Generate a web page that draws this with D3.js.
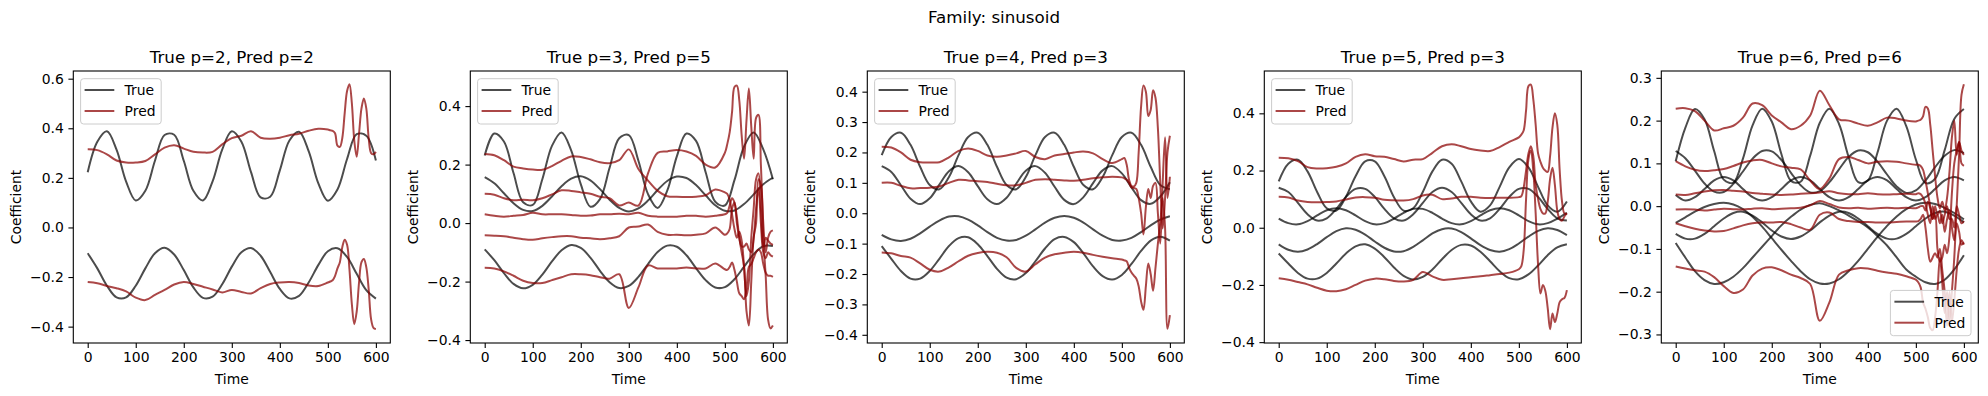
<!DOCTYPE html>
<html>
<head>
<meta charset="utf-8">
<script src="https://cdn.jsdelivr.net/npm/d3@7"></script>
<style>
  body { margin: 0; background: #fff; }
  text { font-family: "DejaVu Sans", sans-serif; fill: #000; }
</style>
</head>
<body>
<script>
// ---- data ----
let suptitle = "Family: sinusoid";
let titles = ["True p=2, Pred p=2", "True p=3, Pred p=5", "True p=4, Pred p=3", "True p=5, Pred p=3", "True p=6, Pred p=6"];

let trueTime = [0,20,40,60,80,100,120,140,160,180,200,220,240,260,280,300,320,340,360,380,400,420,440,460,480,500,520,540,560,580,600];
let predTime = [0,20,40,60,80,100,120,140,160,180,200,220,240,260,280,300,320,340,360,380,400,420,440,460,480,500,
                505,510,515,520,525,530,535,540,545,550,555,560,565,570,575,580,585,590,595,600];

let xTicks = [0, 100, 200, 300, 400, 500, 600];
let yTicks = [
  [-0.4, -0.2, 0.0, 0.2, 0.4, 0.6],
  [-0.4, -0.2, 0.0, 0.2, 0.4],
  [-0.4, -0.3, -0.2, -0.1, 0.0, 0.1, 0.2, 0.3, 0.4],
  [-0.4, -0.2, 0.0, 0.2, 0.4],
  [-0.3, -0.2, -0.1, 0.0, 0.1, 0.2, 0.3]
];
let yDomains = [[-0.466, 0.631], [-0.41, 0.52], [-0.427, 0.468], [-0.403, 0.548], [-0.320, 0.316]];

// panel 1
let p1True = [
  [0.223,0.346,0.388,0.314,0.185,0.109,0.148,0.269,0.373,0.374,0.269,0.148,0.109,0.186,0.314,0.388,0.346,0.223,0.121,0.124,0.230,0.351,0.386,0.308,0.179,0.108,0.153,0.276,0.376,0.370,0.270],
  [-0.104,-0.165,-0.235,-0.282,-0.282,-0.235,-0.165,-0.104,-0.082,-0.109,-0.172,-0.242,-0.284,-0.279,-0.229,-0.158,-0.100,-0.083,-0.114,-0.180,-0.248,-0.286,-0.276,-0.222,-0.152,-0.096,-0.084,-0.119,-0.187,-0.253,-0.287]
];
let p1Pred = [
  [0.315,0.312,0.295,0.270,0.262,0.262,0.268,0.295,0.322,0.332,0.318,0.305,0.302,0.305,0.335,0.360,0.370,0.388,0.362,0.358,0.362,0.372,0.378,0.390,0.398,0.395,
   0.392,0.390,0.380,0.330,0.325,0.360,0.460,0.550,0.578,0.500,0.350,0.285,0.380,0.480,0.520,0.480,0.360,0.300,0.295,0.305],
  [-0.220,-0.225,-0.236,-0.245,-0.258,-0.283,-0.293,-0.272,-0.252,-0.230,-0.220,-0.228,-0.239,-0.250,-0.262,-0.252,-0.260,-0.266,-0.245,-0.228,-0.222,-0.220,-0.224,-0.234,-0.236,-0.222,
   -0.218,-0.213,-0.195,-0.165,-0.140,-0.080,-0.050,-0.070,-0.170,-0.310,-0.390,-0.340,-0.220,-0.140,-0.127,-0.160,-0.250,-0.370,-0.405,-0.410]
];

// panel 2
let p2True = [
  [0.231,0.306,0.279,0.171,0.071,0.062,0.150,0.264,0.310,0.249,0.133,0.056,0.082,0.189,0.290,0.301,0.213,0.099,0.052,0.111,0.228,0.306,0.281,0.174,0.073,0.060,0.147,0.262,0.310,0.252,0.150],
  [0.157,0.136,0.102,0.068,0.045,0.041,0.059,0.091,0.126,0.152,0.160,0.146,0.116,0.080,0.052,0.040,0.050,0.077,0.113,0.144,0.159,0.154,0.130,0.095,0.061,0.042,0.043,0.065,0.098,0.133,0.155],
  [-0.090,-0.127,-0.171,-0.208,-0.223,-0.211,-0.176,-0.131,-0.093,-0.075,-0.085,-0.118,-0.163,-0.202,-0.222,-0.215,-0.184,-0.140,-0.099,-0.077,-0.081,-0.110,-0.154,-0.195,-0.220,-0.219,-0.192,-0.149,-0.106,-0.079,-0.078]
];
let p2Pred = [
  [0.236,0.232,0.215,0.193,0.187,0.183,0.182,0.195,0.213,0.228,0.226,0.218,0.208,0.205,0.215,0.252,0.185,0.145,0.110,0.092,0.090,0.089,0.090,0.095,0.115,0.105,
   0.100,0.080,0.030,-0.020,-0.050,-0.030,-0.060,-0.150,-0.250,-0.200,-0.050,0.050,0.150,0.170,0.050,-0.080,-0.050,-0.060,-0.070,-0.075],
  [0.100,0.097,0.085,0.078,0.080,0.078,0.085,0.098,0.112,0.110,0.105,0.100,0.090,0.085,0.060,0.070,0.060,0.170,0.240,0.245,0.250,0.245,0.230,0.200,0.190,0.240,
   0.270,0.310,0.380,0.465,0.470,0.420,0.300,0.220,0.350,0.460,0.330,0.220,0.360,0.370,0.200,0.000,-0.100,-0.050,-0.030,-0.025],
  [0.030,0.025,0.022,0.025,0.028,0.035,0.030,0.030,0.030,0.028,0.025,0.026,0.030,0.030,0.032,0.030,0.035,0.025,0.022,0.022,0.022,0.025,0.025,0.022,0.025,0.030,
   0.035,0.060,0.085,0.070,0.020,-0.050,-0.100,-0.150,-0.300,-0.350,-0.200,-0.050,0.000,0.150,0.130,-0.050,-0.180,-0.330,-0.360,-0.350],
  [-0.042,-0.043,-0.045,-0.050,-0.055,-0.057,-0.052,-0.048,-0.045,-0.045,-0.050,-0.052,-0.055,-0.052,-0.045,-0.015,-0.012,-0.005,-0.030,-0.040,-0.040,-0.042,-0.040,-0.035,-0.015,-0.040,
   -0.035,-0.020,0.050,0.070,0.000,-0.050,-0.080,-0.080,-0.070,-0.090,-0.100,-0.050,0.050,0.120,0.000,-0.100,-0.120,-0.100,-0.110,-0.115],
  [-0.153,-0.155,-0.165,-0.180,-0.197,-0.205,-0.205,-0.195,-0.185,-0.175,-0.175,-0.178,-0.185,-0.190,-0.175,-0.290,-0.220,-0.145,-0.155,-0.155,-0.155,-0.152,-0.155,-0.155,-0.138,-0.158,
   -0.160,-0.150,-0.135,-0.160,-0.200,-0.240,-0.250,-0.260,-0.220,-0.150,-0.140,-0.120,-0.100,-0.090,-0.100,-0.140,-0.170,-0.180,-0.180,-0.184]
];

// panel 3
let p3True = [
  [0.191,0.251,0.265,0.225,0.153,0.093,0.079,0.119,0.191,0.251,0.265,0.225,0.153,0.093,0.079,0.119,0.191,0.251,0.265,0.225,0.153,0.093,0.079,0.119,0.191,0.251,0.265,0.225,0.153,0.093,0.079],
  [0.155,0.136,0.092,0.048,0.030,0.049,0.094,0.138,0.155,0.135,0.089,0.046,0.030,0.051,0.097,0.140,0.155,0.133,0.087,0.044,0.030,0.053,0.099,0.141,0.155,0.131,0.085,0.043,0.031,0.055,0.102],
  [-0.071,-0.086,-0.091,-0.084,-0.066,-0.044,-0.024,-0.011,-0.010,-0.021,-0.040,-0.062,-0.081,-0.090,-0.088,-0.074,-0.053,-0.031,-0.015,-0.009,-0.015,-0.031,-0.053,-0.074,-0.088,-0.090,-0.081,-0.062,-0.040,-0.021,-0.010],
  [-0.108,-0.150,-0.190,-0.215,-0.215,-0.190,-0.150,-0.108,-0.082,-0.079,-0.102,-0.141,-0.183,-0.212,-0.217,-0.197,-0.158,-0.116,-0.085,-0.078,-0.095,-0.132,-0.175,-0.207,-0.218,-0.203,-0.167,-0.124,-0.090,-0.077,-0.090]
];
let p3Pred = [
  [0.219,0.216,0.200,0.176,0.168,0.167,0.168,0.184,0.205,0.213,0.205,0.190,0.186,0.190,0.197,0.205,0.185,0.178,0.190,0.195,0.200,0.203,0.197,0.178,0.165,0.178,
   0.182,0.160,0.110,0.090,0.088,0.100,0.200,0.350,0.420,0.400,0.320,0.340,0.405,0.380,0.280,0.100,-0.050,0.050,0.200,0.255],
  [0.100,0.100,0.090,0.082,0.083,0.084,0.088,0.100,0.110,0.108,0.105,0.103,0.097,0.092,0.092,0.100,0.110,0.112,0.110,0.108,0.107,0.110,0.115,0.118,0.120,0.118,
   0.115,0.110,0.100,0.085,0.083,0.080,0.050,0.000,-0.070,0.020,0.080,0.050,0.090,0.100,0.000,-0.100,0.100,0.250,0.050,0.120],
  [-0.129,-0.132,-0.141,-0.146,-0.165,-0.186,-0.192,-0.178,-0.158,-0.140,-0.131,-0.127,-0.130,-0.145,-0.180,-0.192,-0.168,-0.146,-0.135,-0.130,-0.127,-0.130,-0.137,-0.143,-0.148,-0.152,
   -0.155,-0.158,-0.180,-0.195,-0.205,-0.215,-0.240,-0.290,-0.318,-0.240,-0.165,-0.200,-0.255,-0.180,-0.100,-0.030,0.050,-0.050,-0.380,-0.335]
];

// panel 4
let p4True = [
  [0.162,0.224,0.238,0.197,0.125,0.068,0.060,0.108,0.180,0.232,0.232,0.180,0.107,0.060,0.068,0.125,0.197,0.238,0.224,0.162,0.092,0.056,0.078,0.143,0.211,0.240,0.211,0.143,0.078,0.056,0.092],
  [0.140,0.125,0.087,0.047,0.025,0.033,0.066,0.108,0.136,0.136,0.108,0.066,0.033,0.025,0.047,0.087,0.125,0.140,0.125,0.087,0.047,0.025,0.033,0.066,0.108,0.136,0.136,0.108,0.066,0.033,0.025],
  [0.032,0.016,0.012,0.023,0.043,0.061,0.068,0.061,0.043,0.023,0.012,0.016,0.032,0.052,0.066,0.066,0.052,0.032,0.016,0.012,0.023,0.043,0.061,0.068,0.061,0.043,0.023,0.012,0.016,0.032,0.052],
  [-0.058,-0.077,-0.084,-0.076,-0.057,-0.033,-0.012,-0.002,-0.007,-0.024,-0.048,-0.070,-0.083,-0.082,-0.067,-0.044,-0.020,-0.005,-0.003,-0.015,-0.037,-0.061,-0.078,-0.084,-0.075,-0.055,-0.031,-0.011,-0.002,-0.008,-0.026],
  [-0.090,-0.125,-0.158,-0.178,-0.178,-0.158,-0.125,-0.090,-0.065,-0.058,-0.073,-0.103,-0.139,-0.168,-0.181,-0.172,-0.146,-0.110,-0.078,-0.060,-0.062,-0.084,-0.117,-0.152,-0.176,-0.180,-0.163,-0.132,-0.096,-0.069,-0.058]
];
let p4Pred = [
  [0.245,0.243,0.233,0.212,0.207,0.208,0.213,0.225,0.248,0.257,0.250,0.248,0.240,0.232,0.238,0.240,0.262,0.285,0.292,0.285,0.275,0.270,0.268,0.282,0.300,0.316,
   0.325,0.340,0.410,0.495,0.500,0.450,0.360,0.260,0.230,0.210,0.200,0.195,0.250,0.350,0.400,0.360,0.200,0.090,0.050,0.050],
  [0.108,0.106,0.095,0.090,0.089,0.090,0.092,0.099,0.106,0.107,0.105,0.098,0.096,0.095,0.100,0.113,0.115,0.100,0.102,0.108,0.108,0.105,0.104,0.105,0.105,0.107,
   0.110,0.140,0.200,0.260,0.285,0.250,0.150,0.100,0.065,0.050,0.050,0.090,0.170,0.210,0.150,0.060,0.030,0.025,0.040,0.050],
  [-0.177,-0.182,-0.190,-0.198,-0.210,-0.220,-0.222,-0.215,-0.200,-0.185,-0.178,-0.180,-0.186,-0.188,-0.182,-0.155,-0.170,-0.182,-0.180,-0.177,-0.173,-0.170,-0.166,-0.162,-0.157,-0.145,
   -0.135,-0.080,0.100,0.240,0.270,0.200,0.050,-0.130,-0.230,-0.200,-0.220,-0.280,-0.355,-0.300,-0.330,-0.300,-0.260,-0.250,-0.245,-0.218]
];

// panel 5
let p5True = [
  [0.105,0.183,0.227,0.203,0.129,0.062,0.055,0.111,0.189,0.228,0.198,0.122,0.059,0.057,0.118,0.195,0.228,0.192,0.115,0.056,0.060,0.125,0.200,0.228,0.187,0.109,0.054,0.064,0.131,0.204,0.227],
  [0.129,0.112,0.083,0.053,0.034,0.033,0.052,0.081,0.111,0.129,0.128,0.108,0.078,0.049,0.032,0.035,0.056,0.086,0.115,0.130,0.126,0.104,0.074,0.046,0.031,0.037,0.060,0.091,0.118,0.131,0.124],
  [0.026,0.013,0.021,0.040,0.060,0.068,0.060,0.040,0.021,0.013,0.021,0.040,0.060,0.068,0.060,0.040,0.021,0.013,0.021,0.040,0.060,0.068,0.060,0.040,0.021,0.013,0.021,0.040,0.060,0.068,0.060],
  [-0.065,-0.076,-0.076,-0.065,-0.047,-0.029,-0.016,-0.013,-0.022,-0.038,-0.057,-0.071,-0.077,-0.071,-0.057,-0.038,-0.022,-0.013,-0.016,-0.029,-0.047,-0.065,-0.076,-0.076,-0.065,-0.047,-0.029,-0.016,-0.013,-0.022,-0.038],
  [-0.039,-0.026,-0.013,-0.002,0.005,0.008,0.004,-0.007,-0.025,-0.048,-0.075,-0.102,-0.128,-0.152,-0.171,-0.181,-0.181,-0.171,-0.152,-0.128,-0.100,-0.072,-0.046,-0.024,-0.007,0.004,0.008,0.005,-0.004,-0.016,-0.031],
  [-0.086,-0.120,-0.152,-0.173,-0.182,-0.178,-0.165,-0.145,-0.120,-0.095,-0.070,-0.045,-0.025,-0.008,0.003,0.007,0.000,-0.010,-0.022,-0.035,-0.050,-0.070,-0.092,-0.120,-0.148,-0.165,-0.178,-0.182,-0.172,-0.148,-0.115]
];
let p5Pred = [
  [0.228,0.229,0.222,0.200,0.177,0.182,0.188,0.207,0.240,0.236,0.212,0.196,0.180,0.188,0.212,0.270,0.236,0.203,0.200,0.193,0.188,0.196,0.207,0.205,0.200,0.198,
   0.200,0.202,0.210,0.232,0.228,0.190,0.130,0.070,0.020,-0.005,0.010,-0.010,0.020,0.080,0.160,0.200,0.120,0.150,0.130,0.120],
  [0.105,0.093,0.085,0.082,0.084,0.087,0.094,0.102,0.107,0.108,0.100,0.093,0.090,0.086,0.060,0.040,0.065,0.110,0.115,0.108,0.100,0.104,0.105,0.104,0.100,0.097,
   0.097,0.094,0.085,0.060,0.030,0.000,-0.030,-0.020,-0.100,-0.130,-0.120,-0.090,-0.110,-0.070,0.030,0.100,0.130,0.150,0.100,0.094],
  [0.027,0.026,0.030,0.034,0.037,0.038,0.036,0.034,0.031,0.029,0.027,0.026,0.027,0.029,0.030,0.032,0.035,0.030,0.028,0.028,0.030,0.028,0.027,0.028,0.029,0.028,
   0.030,0.028,0.020,0.005,-0.020,-0.040,0.000,-0.030,-0.020,-0.040,-0.020,-0.060,-0.030,-0.010,-0.050,-0.080,-0.040,-0.060,-0.090,-0.085],
  [-0.008,-0.007,-0.008,-0.010,-0.008,-0.006,-0.007,-0.008,-0.006,-0.005,-0.007,-0.006,-0.005,-0.004,0.002,0.012,0.005,-0.003,-0.005,-0.004,-0.006,-0.005,-0.004,-0.005,-0.004,-0.005,
   -0.003,0.000,0.000,-0.010,0.010,-0.005,-0.030,0.000,-0.020,-0.010,-0.040,-0.020,0.000,-0.030,-0.030,-0.050,0.000,-0.020,-0.040,-0.035],
  [-0.040,-0.047,-0.053,-0.057,-0.059,-0.058,-0.052,-0.045,-0.040,-0.038,-0.038,-0.037,-0.042,-0.050,-0.055,-0.020,-0.015,-0.030,-0.035,-0.037,-0.037,-0.038,-0.038,-0.037,-0.036,-0.036,
   -0.035,-0.030,-0.020,-0.050,-0.100,-0.130,-0.120,-0.110,-0.120,-0.100,-0.150,-0.200,-0.280,-0.200,-0.270,-0.220,-0.150,-0.100,-0.080,-0.090],
  [-0.141,-0.146,-0.150,-0.153,-0.166,-0.187,-0.203,-0.195,-0.162,-0.146,-0.143,-0.150,-0.160,-0.168,-0.182,-0.268,-0.225,-0.160,-0.150,-0.145,-0.146,-0.151,-0.155,-0.158,-0.164,-0.172,
   -0.178,-0.190,-0.225,-0.240,-0.260,-0.285,-0.290,-0.260,-0.200,-0.120,-0.180,-0.250,-0.200,-0.270,-0.200,-0.120,0.000,0.120,0.260,0.285]
];

let trueSets = [p1True, p2True, p3True, p4True, p5True];
let predSets = [p1Pred, p2Pred, p3Pred, p4Pred, p5Pred];
let legendCorner = ["upper left", "upper left", "upper left", "upper left", "lower right"];

// ---- layout ----
let width = 1988;
let height = 396;
let axLefts = [73.3, 470.3, 867.3, 1264.3, 1661.3];
let axTop = 71;
let axW = 317;
let axH = 272;

let true_color = "#000000";
let true_alpha = 0.7;
let pred_color = "#8b0000";
let pred_alpha = 0.72;

let svg = d3.select("body")
            .append("svg")
            .attr("width", width)
            .attr("height", height);

svg.append("rect").attr("width", width).attr("height", height).attr("fill", "#fff");

svg.append("text")
   .attr("x", width / 2)
   .attr("y", 23)
   .attr("text-anchor", "middle")
   .style("font-size", "16.7px")
   .text(suptitle);

let x = d3.scaleLinear().domain([-30, 630]).range([0, axW]);

for (let p = 0; p < 5; p++) {
    let g = svg.append("g").attr("transform", "translate(" + axLefts[p] + "," + axTop + ")");
    let y = d3.scaleLinear().domain(yDomains[p]).range([axH, 0]);

    g.append("clipPath").attr("id", "clip" + p)
     .append("rect").attr("width", axW).attr("height", axH);

    let trueLine = d3.line()
        .x((d, i) => x(trueTime[i]))
        .y(d => y(d))
        .curve(d3.curveCatmullRom.alpha(0.5));
    let predLine = d3.line()
        .x((d, i) => x(predTime[i]))
        .y(d => y(d))
        .curve(d3.curveCatmullRom.alpha(0.5));

    let plot = g.append("g").attr("clip-path", "url(#clip" + p + ")");

    plot.selectAll(".true")
        .data(trueSets[p])
        .enter().append("path")
        .attr("class", "true")
        .attr("d", trueLine)
        .attr("fill", "none")
        .attr("stroke", true_color)
        .attr("stroke-opacity", true_alpha)
        .attr("stroke-width", 2);

    plot.selectAll(".pred")
        .data(predSets[p])
        .enter().append("path")
        .attr("class", "pred")
        .attr("d", predLine)
        .attr("fill", "none")
        .attr("stroke", pred_color)
        .attr("stroke-opacity", pred_alpha)
        .attr("stroke-width", 2);

    // axes
    let xAxis = g.append("g")
        .attr("transform", "translate(0," + axH + ")")
        .call(d3.axisBottom(x).tickValues(xTicks).tickFormat(d3.format("d")).tickSize(4.9).tickPadding(4.2));
    let yAxis = g.append("g")
        .call(d3.axisLeft(y).tickValues(yTicks[p]).tickFormat(d3.format(".1f")).tickSize(4.9).tickPadding(4.6));
    [xAxis, yAxis].forEach(a => {
        a.select(".domain").remove();
        a.selectAll("line").attr("stroke", "#000").attr("stroke-width", 1.1);
        a.selectAll("text").style("font-size", "13.9px").style("font-family", "DejaVu Sans").attr("fill", "#000");
    });

    g.append("rect")
     .attr("width", axW).attr("height", axH)
     .attr("fill", "none").attr("stroke", "#000").attr("stroke-width", 1.1);

    // titles and labels
    g.append("text")
     .attr("x", axW / 2).attr("y", -8)
     .attr("text-anchor", "middle")
     .style("font-size", "16.7px")
     .text(titles[p]);

    g.append("text")
     .attr("x", axW / 2).attr("y", 313)
     .attr("text-anchor", "middle")
     .style("font-size", "13.9px")
     .text("Time");

    g.append("text")
     .attr("transform", "translate(-52," + (axH / 2) + ") rotate(-90)")
     .attr("text-anchor", "middle")
     .style("font-size", "13.9px")
     .text("Coefficient");

    // legend
    let lw = 80.6, lh = 45.3;
    let lx = legendCorner[p] == "upper left" ? 7.3 : axW - 7.3 - lw;
    let ly = legendCorner[p] == "upper left" ? 7.7 : axH - 7.3 - lh;
    let leg = g.append("g").attr("transform", "translate(" + lx + "," + ly + ")");
    leg.append("rect")
       .attr("width", lw).attr("height", lh).attr("rx", 3)
       .attr("fill", "#fff").attr("fill-opacity", 0.8)
       .attr("stroke", "#cccccc").attr("stroke-width", 1);
    let entries = [["True", true_color, true_alpha], ["Pred", pred_color, pred_alpha]];
    entries.forEach((e, i) => {
        let yy = 11.3 + i * 21;
        leg.append("line")
           .attr("x1", 4).attr("x2", 33.7).attr("y1", yy).attr("y2", yy)
           .attr("stroke", e[1]).attr("stroke-opacity", e[2]).attr("stroke-width", 2);
        leg.append("text")
           .attr("x", 44).attr("y", yy + 5)
           .style("font-size", "13.9px")
           .text(e[0]);
    });
}
</script>
</body>
</html>
